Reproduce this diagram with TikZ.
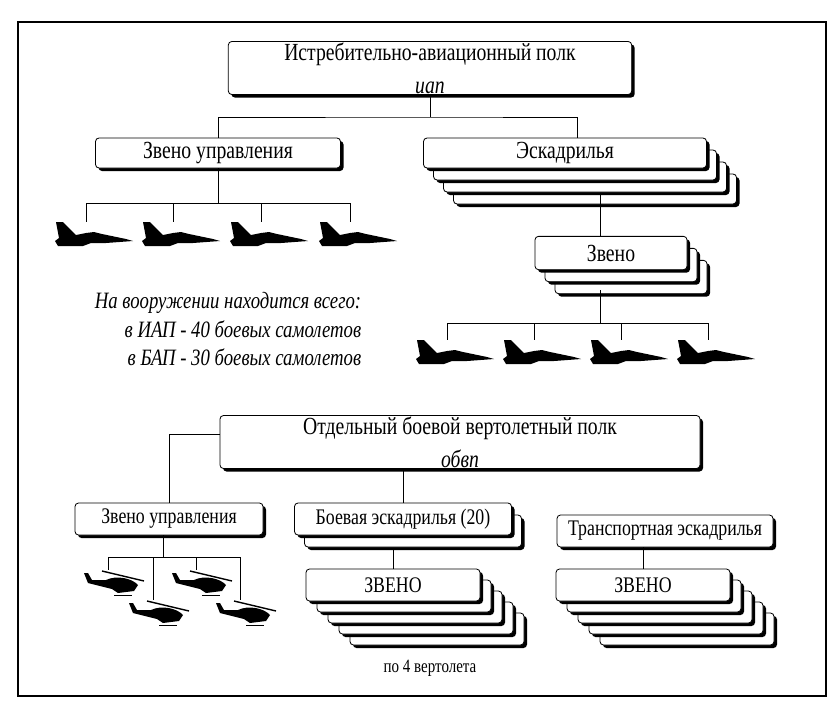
\documentclass[tikz,border=0pt]{standalone}
\usepackage{fontspec}
\setmainfont[FakeStretch=0.8]{Liberation Serif}
\usepackage{tikz}
\usetikzlibrary{shadows}

\begin{document}
\begin{tikzpicture}[x=0.03cm,y=-0.03cm]

\tikzset{box/.style = {draw,fill=white,rounded corners=3pt,line width=0.7pt,
  drop shadow={opacity=1,fill=black,shadow xshift=0.9mm,shadow yshift=-0.9mm},
  inner sep=1pt,font=\fontsize{21}{23}\selectfont}}
\tikzset{back/.style = {box,font=\fontsize{19}{21}\selectfont}}
\tikzset{edge/.style = {line width=0.4pt}}
\tikzset{jet/.pic = {\fill (-30,0) -- (-23,0) -- (-10,13) -- (0,11) -- (8,10) -- (16,12)
  -- (40,17) -- (47,19) -- (20,21) -- (5,21) -- (-3,24) -- (-28,24) -- (-31,19) -- (-27,16) -- cycle;}}
\tikzset{heli/.pic = {\fill (-2,10) .. controls (8,5) and (24,8) .. (30,15) -- (26,21)
  -- (10,23) -- (4,19) -- (-20,13) -- (-24,3) -- (-20,3) -- (-16,10) -- cycle;
  \draw[line width=1.2pt] (-6,1) -- (36,11);
  \draw[line width=0.8pt] (6,25) -- (24,25);}}

\useasboundingbox (0,0) rectangle (840,715);
\draw[line width=1.1pt] (18,22) rectangle (826,696);

% fighter regiment
\node[box,minimum width=12.1cm,minimum height=1.59cm,align=center] (iap) at (430,68)
  {Истребительно-авиационный полк\\[5pt]\textit{иап}};
\node[box,minimum width=7.35cm,minimum height=0.9cm] (zu) at (218,153) {Звено управления};
\foreach \k in {3,2,1}
  \node[box,minimum width=8.49cm,minimum height=0.9cm] at (565+\k*10,153+\k*12) {};
\node[box,minimum width=8.49cm,minimum height=0.9cm] (esk) at (565,153) {Эскадрилья};
\foreach \k in {2,1}
  \node[box,minimum width=4.56cm,minimum height=1cm] at (611+\k*10,253+\k*12) {};
\node[box,minimum width=4.56cm,minimum height=1cm] (zv) at (611,253) {Звено};

\coordinate (b0) at (430,117);
\draw[edge] (iap) -- (b0);
\draw[edge] (zu.north -| 218,0) |- (b0) -| (577,138);

\coordinate (b1) at (218,203);
\draw[edge] (zu) -- (b1);
\draw[edge] (86,203) -- (350,203);
\foreach \x in {86,173,261,350} {
  \draw[edge] (\x,203) -- (\x,222);
  \pic at (\x,222) {jet};
}
\coordinate (e1) at (600,195);
\draw[edge] (e1) -- (zv.north -| e1);
\coordinate (b2) at (600,323);
\draw[edge] (600,290) -- (b2);
\draw[edge] (447,323) -- (708,323);
\foreach \x in {447,534,621,708} {
  \draw[edge] (\x,323) -- (\x,340);
  \pic at (\x,340) {jet};
}

\node[align=right,font=\fontsize{20}{24}\selectfont\itshape] (arm) at (228,329)
  {На вооружении находится всего:\\в ИАП - 40 боевых самолетов\\в БАП - 30 боевых самолетов};

% helicopter regiment
\node[box,minimum width=14.4cm,minimum height=1.53cm,align=center] (obvp) at (460,442)
  {Отдельный боевой вертолетный полк\\[5pt]\textit{обвп}};
\node[back,minimum width=5.64cm,minimum height=0.96cm] (zu2) at (169,519) {Звено управления};
\node[back,minimum width=6.51cm,minimum height=0.96cm] at (413,531) {};
\node[back,minimum width=6.51cm,minimum height=0.96cm] (be) at (403,519) {Боевая эскадрилья (20)};
\node[back,minimum width=6.48cm,minimum height=0.96cm] (te) at (665,531) {Транспортная эскадрилья};
\foreach \k in {4,3,2,1} {
  \node[back,minimum width=5.22cm,minimum height=0.96cm] at (393+\k*11,585+\k*11) {};
  \node[back,minimum width=5.22cm,minimum height=0.96cm] at (643+\k*11,585+\k*11) {};
}
\node[back,minimum width=5.22cm,minimum height=0.96cm] (zv1) at (393,585) {ЗВЕНО};
\node[back,minimum width=5.22cm,minimum height=0.96cm] (zv2) at (643,585) {ЗВЕНО};

\draw[edge] (obvp.west |- 0,434) -| (zu2);
\draw[edge] (obvp.south -| be) -- (be);
\coordinate (e2) at (393,549);
\draw[edge] (e2) -- (zv1);
\draw[edge] (te.south -| zv2) -- (zv2);

\coordinate (b3) at (163,557);
\draw[edge] (zu2.south -| b3) -- (b3);
\draw[edge] (108,557) -- (240,557);
\foreach \x/\y in {108/570,196/570,153/600,240/600} {
  \draw[edge] (\x,557) -- (\x,\y);
  \pic at (\x,\y) {heli};
}

\node[font=\fontsize{16}{18}\selectfont] (po4) at (430,668) {по 4 вертолета};

\end{tikzpicture}
\end{document}
